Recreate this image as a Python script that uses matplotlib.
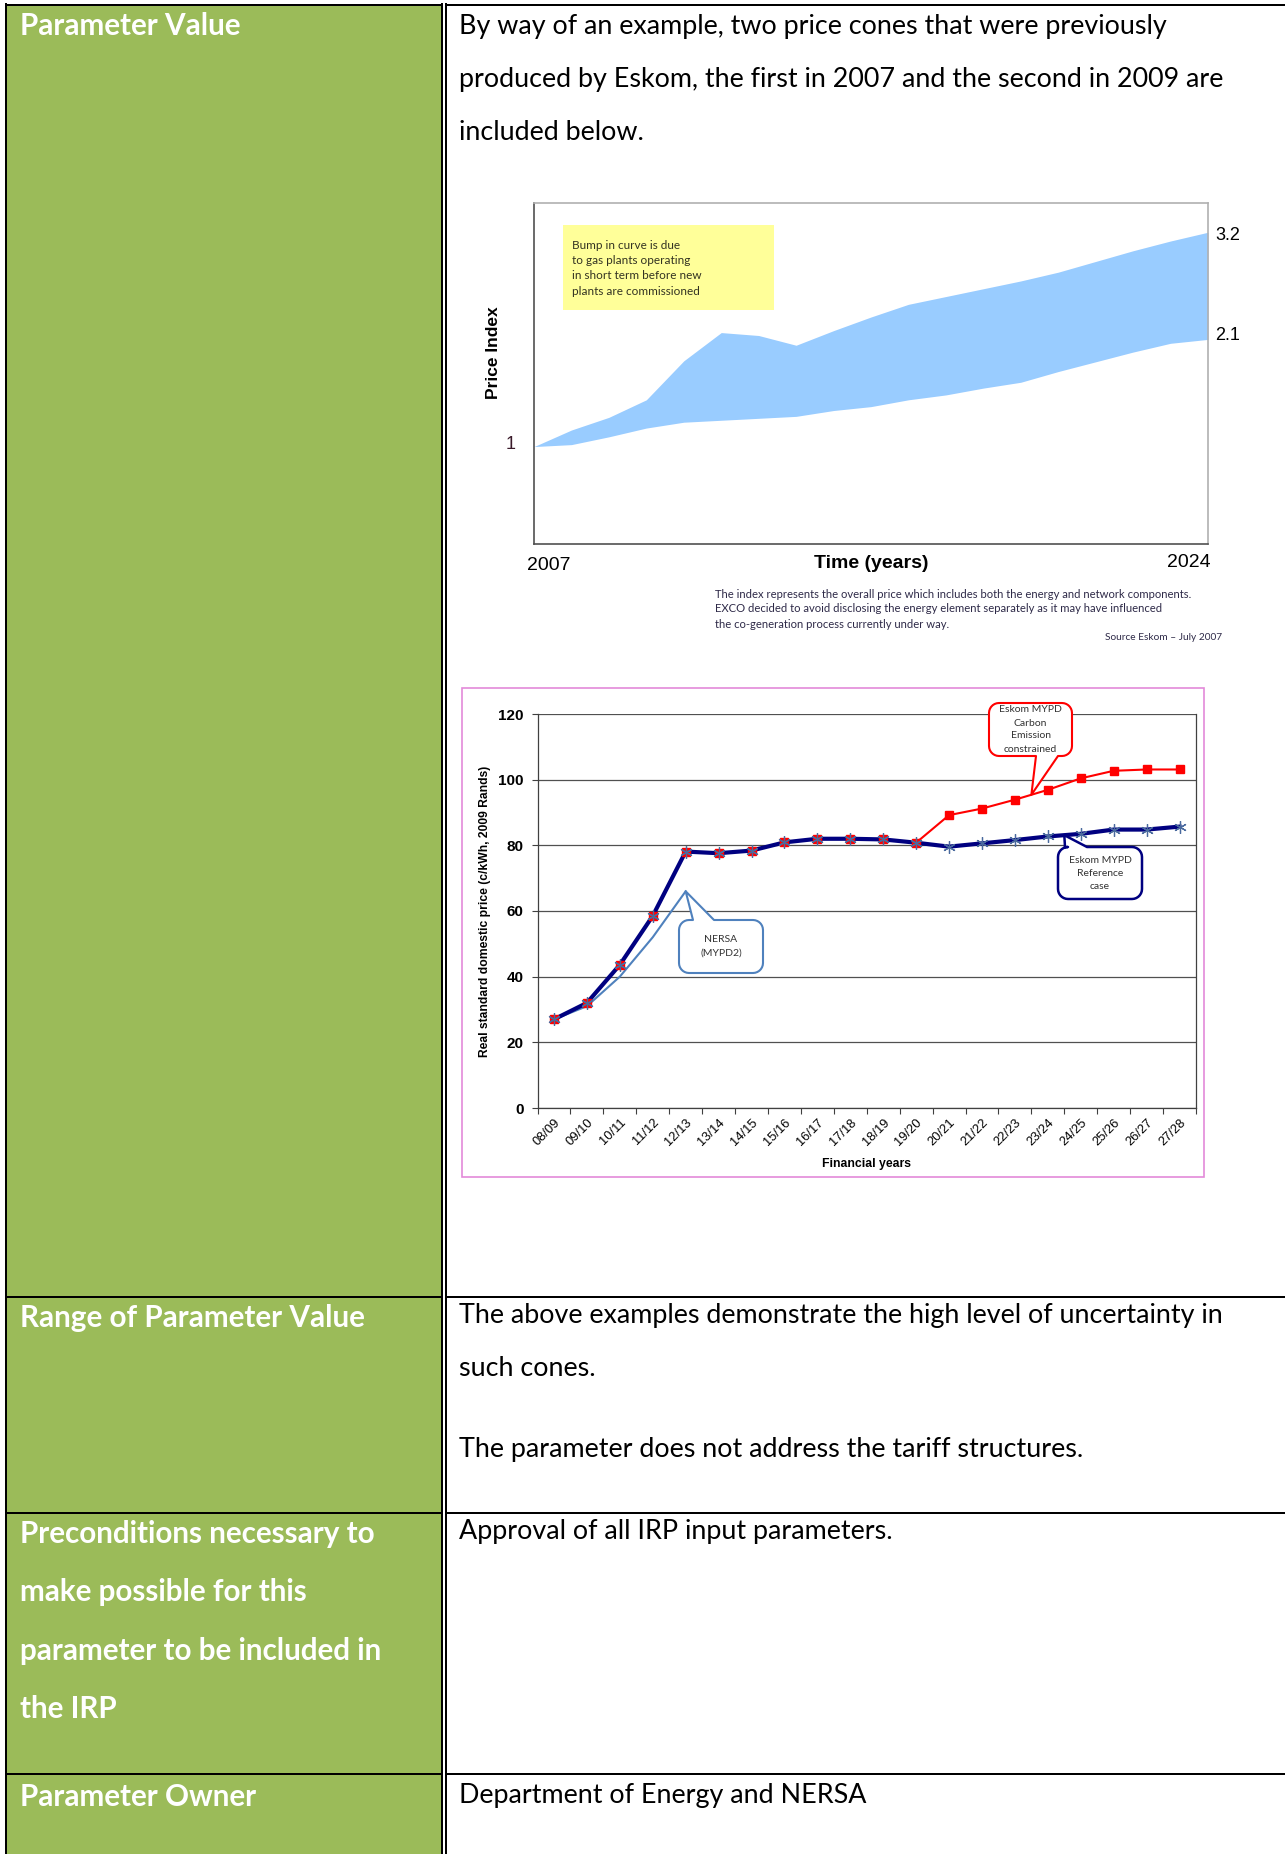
import numpy as np
import matplotlib
matplotlib.use("Agg")
import matplotlib.pyplot as plt
from matplotlib.patches import Rectangle, Polygon
from matplotlib.transforms import blended_transform_factory

W, H = 1285, 1854

# price cone produced by Eskom in 2007 (index, 2007 = 1)
cone_end_labels = ["2007", "2024"]
cone_upper = [1.00, 1.17, 1.30, 1.48, 1.88, 2.17, 2.14, 2.04, 2.19, 2.33,
              2.46, 2.54, 2.62, 2.70, 2.79, 2.90, 3.01, 3.11, 3.20]
cone_lower = [1.00, 1.02, 1.10, 1.19, 1.25, 1.27, 1.29, 1.31, 1.37, 1.41,
              1.48, 1.53, 1.60, 1.66, 1.77, 1.87, 1.97, 2.06, 2.10]

# 2009 price path, c/kWh in 2009 Rands
fin_years = ["08/09", "09/10", "10/11", "11/12", "12/13", "13/14", "14/15",
             "15/16", "16/17", "17/18", "18/19", "19/20", "20/21", "21/22",
             "22/23", "23/24", "24/25", "25/26", "26/27", "27/28"]
mypd_reference = [27.0, 32.0, 43.6, 58.5, 78.1, 77.6, 78.4, 80.9, 82.0, 82.0,
                  81.8, 80.8, 79.6, 80.6, 81.6, 82.7, 83.5, 84.8, 84.8, 85.7]
mypd_carbon = [27.0, 32.0, 43.6, 58.5, 78.1, 77.6, 78.4, 80.9, 82.0, 82.0,
               81.8, 80.8, 89.2, 91.2, 93.9, 96.9, 100.4, 102.7, 103.1, 103.1]
nersa_mypd2 = [27.0, 31.0, 40.0, 52.0, 66.0]
y_ticks = [0, 20, 40, 60, 80, 100, 120]

# table text: (lines, y of each line)
row_lines = [5, 1297, 1513, 1774]
left_text = [
    (["Parameter Value"], [26]),
    (["Range of Parameter Value"], [1318]),
    (["Preconditions necessary to", "make possible for this",
      "parameter to be included in", "the IRP"], [1534, 1592.5, 1651, 1709.5]),
    (["Parameter Owner"], [1797]),
]
right_text = [
    (["By way of an example, two price cones that were previously",
      "produced by Eskom, the first in 2007 and the second in 2009 are",
      "included below."], [26, 79, 132]),
    (["The above examples demonstrate the high level of uncertainty in",
      "such cones.", "The parameter does not address the tariff structures."],
     [1316, 1369, 1449]),
    (["Approval of all IRP input parameters."], [1532]),
    (["Department of Energy and NERSA"], [1795]),
]
cone_note = ["The index represents the overall price which includes both the energy and network components.",
             "EXCO decided to avoid disclosing the energy element separately as it may have influenced",
             "the co-generation process currently under way."]

GREEN = "#9BBB59"
BODY = ["Lato", "DejaVu Sans"]
ARIAL = ["Liberation Sans", "DejaVu Sans"]
plt.rcParams["font.family"] = BODY


def px_rect(x0, y0, x1, y1):
    return [x0 / W, 1 - y1 / H, (x1 - x0) / W, (y1 - y0) / H]


fig = plt.figure(figsize=(W / 100, H / 100), dpi=100)
bg = fig.add_axes([0, 0, 1, 1], zorder=0)
bg.set_xlim(0, W)
bg.set_ylim(H, 0)
bg.axis("off")

# table skeleton
bg.add_patch(Rectangle((6, 5), 436, H, fc=GREEN, ec="none"))
lw_px = 2 * 0.72
for y in row_lines:
    bg.plot([5, 442], [y, y], color="black", lw=lw_px, solid_capstyle="butt")
    bg.plot([445, W], [y, y], color="black", lw=lw_px, solid_capstyle="butt")
bg.plot([6, 6], [4, H], color="black", lw=lw_px)
bg.plot([441.8, 441.8], [4, H], color="black", lw=lw_px)
bg.plot([445.8, 445.8], [4, H], color="black", lw=lw_px)

for lines, ys in left_text:
    for t, y in zip(lines, ys):
        bg.text(20, y, t, color="white", fontsize=21.3,
                fontweight="bold", va="center", ha="left")
for lines, ys in right_text:
    for t, y in zip(lines, ys):
        bg.text(459, y, t, color="black", fontsize=19.4,
                va="center", ha="left")

# ---- chart 1: price cone 2007 ----
ax1 = fig.add_axes(px_rect(534, 203, 1208, 544), zorder=2)
xc = np.arange(len(cone_upper))
ax1.fill_between(xc, cone_lower, cone_upper, color="#99CCFF", lw=0)
ax1.set_xlim(0, len(cone_upper) - 1)
ax1.set_ylim(0, 3.5)
ax1.set_xticks([])
ax1.set_yticks([])
for s in ["left", "bottom"]:
    ax1.spines[s].set_color("#505050")
    ax1.spines[s].set_linewidth(1.2)
for s in ["top", "right"]:
    ax1.spines[s].set_color("#B0B0B0")
    ax1.spines[s].set_linewidth(1.2)

bt = blended_transform_factory(ax1.transAxes, ax1.transData)
ax1.text(-0.034, cone_lower[0] + 0.02, "1", transform=bt, fontsize=13,
         family=ARIAL, color="#3a1a2a", ha="center", va="center")
ax1.text(1.011, cone_upper[-1] - 0.03, f"{cone_upper[-1]:.1f}", transform=bt,
         fontsize=13, family=ARIAL, ha="left", va="center")
ax1.text(1.011, cone_lower[-1] + 0.04, f"{cone_lower[-1]:.1f}", transform=bt,
         fontsize=13, family=ARIAL, ha="left", va="center")
ax1.text(0.022, -0.062, cone_end_labels[0], transform=ax1.transAxes,
         fontsize=14, family=ARIAL, ha="center", va="center")
ax1.text(0.972, -0.053, cone_end_labels[1], transform=ax1.transAxes,
         fontsize=14, family=ARIAL, ha="center", va="center")
ax1.text(0.5, -0.056, "Time (years)", transform=ax1.transAxes, fontsize=14,
         family=ARIAL, fontweight="bold", ha="center", va="center")
ax1.text(-0.06, 0.56, "Price Index", transform=ax1.transAxes, rotation=90,
         fontsize=12.5, family=ARIAL, fontweight="bold", ha="center", va="center")

ax1.add_patch(Rectangle((0.043, 0.6875), 0.313, 0.2475, transform=ax1.transAxes,
                        fc="#FFFF99", ec="none"))
for i, t in enumerate(["Bump in curve is due", "to gas plants operating",
                       "in short term before new", "plants are commissioned"]):
    ax1.text(0.057, 0.876 - i * 0.045, t, transform=ax1.transAxes, fontsize=8.5,
             color="#333322", ha="left", va="center")

for i, t in enumerate(cone_note):
    bg.text(715, 594 + i * 15, t, fontsize=8.1, color="#2E2A48", ha="left", va="center")
bg.text(1222, 638, "Source Eskom \u2013 July 2007", fontsize=7.3, color="#2E2A48",
        ha="right", va="center")

# ---- chart 2: price path 2009 ----
bg.add_patch(Rectangle((462, 688), 742, 489, fc="white", ec="#E38AD9", lw=1.2))
ax2 = fig.add_axes(px_rect(537.5, 714, 1196, 1108), zorder=2)
x = np.arange(len(fin_years))
ax2.plot(x, mypd_carbon, color="#FF0000", lw=1.5, zorder=2)
ax2.plot(np.arange(len(nersa_mypd2)), nersa_mypd2, color="#4F81BD", lw=1.5, zorder=2.5)
ax2.plot(x, mypd_reference, color="#000080", lw=3, zorder=3)
ax2.plot(x, mypd_carbon, ls="none", marker="s", ms=6, mfc="#FF0000",
         mec="#FF0000", zorder=4)
ax2.plot(x, mypd_reference, ls="none", marker=(6, 2, 0), ms=9, mec="#4A6A9E",
         mew=0.9, zorder=5)

ax2.set_xlim(-0.5, len(fin_years) - 0.5)
ax2.set_ylim(y_ticks[0], y_ticks[-1])
ax2.set_yticks(y_ticks)
ax2.set_yticklabels([str(v) for v in y_ticks], fontsize=11, fontweight="bold",
                    family=ARIAL)
ax2.set_xticks(np.arange(-0.5, len(fin_years), 1))
ax2.set_xticklabels([])
ax2.set_xticks(x, minor=True)
ax2.set_xticklabels(fin_years, minor=True, rotation=45, ha="right", va="top",
                    rotation_mode="anchor", fontsize=9.3, family=ARIAL)
ax2.tick_params(axis="x", which="major", length=4, width=0.8, color="#404040")
ax2.tick_params(axis="x", which="minor", length=0, pad=6)
ax2.tick_params(axis="y", length=4, width=0.8, color="#404040", pad=6)
ax2.grid(axis="y", color="#505050", lw=0.9)
ax2.set_axisbelow(True)
for s in ["left", "bottom", "right"]:
    ax2.spines[s].set_color("#404040")
    ax2.spines[s].set_linewidth(0.9)
ax2.spines["top"].set_visible(False)
ax2.set_ylabel("Real standard domestic price (c/kWh, 2009 Rands)", fontsize=8.7,
               fontweight="bold", family=ARIAL, labelpad=5)
ax2.set_xlabel("Financial years", fontsize=8.8, fontweight="bold", family=ARIAL,
               labelpad=7)

# ---- callouts (pixel overlay) ----
ov = fig.add_axes([0, 0, 1, 1], zorder=10)
ov.set_xlim(0, W)
ov.set_ylim(H, 0)
ov.axis("off")
ov.patch.set_alpha(0)


def data_px(ax, xv, yv):
    d = ax.transData.transform((xv, yv))
    return d[0], H - d[1]


def callout(box, side, base, tip, color, lw, lines, ys):
    x0, y0, x1, y1 = box
    r = 10
    pts = [(x0 + r, y0)]

    def arc(cx, cy, a0, a1):
        for t in np.radians(np.linspace(a0, a1, 8)):
            pts.append((cx + r * np.cos(t), cy + r * np.sin(t)))

    if side == "top":
        pts += [(base[0], y0), tip, (base[1], y0)]
    arc(x1 - r, y0 + r, -90, 0)
    arc(x1 - r, y1 - r, 0, 90)
    if side == "bottom":
        pts += [(base[1], y1), tip, (base[0], y1)]
    arc(x0 + r, y1 - r, 90, 180)
    arc(x0 + r, y0 + r, 180, 270)
    ov.add_patch(Polygon(pts, closed=True, fc="white", ec=color, lw=lw,
                         joinstyle="round"))
    for t, yy in zip(lines, ys):
        ov.text((x0 + x1) / 2, yy, t, fontsize=7.5, color="#333333",
                ha="center", va="center")


tip_red = data_px(ax2, 14.5, (mypd_carbon[14] + mypd_carbon[15]) / 2)
callout((989, 703, 1072, 756), "bottom", (1036, 1058), tip_red, "#FF0000", 1.5,
        ["Eskom MYPD", "Carbon", "Emission", "constrained"], [710, 723, 736, 749])
tip_navy = data_px(ax2, 15.5, (mypd_reference[15] + mypd_reference[16]) / 2)
callout((1058, 847, 1142, 899), "top", (1065, 1087), tip_navy, "#000080", 1.8,
        ["Eskom MYPD", "Reference", "case"], [860, 873, 886])
tip_nersa = data_px(ax2, len(nersa_mypd2) - 1, nersa_mypd2[-1])
callout((679, 920, 763, 973), "top", (693, 714), tip_nersa, "#4F81BD", 1.5,
        ["NERSA", "(MYPD2)"], [939, 953])

fig.savefig("out.png", dpi=100)
